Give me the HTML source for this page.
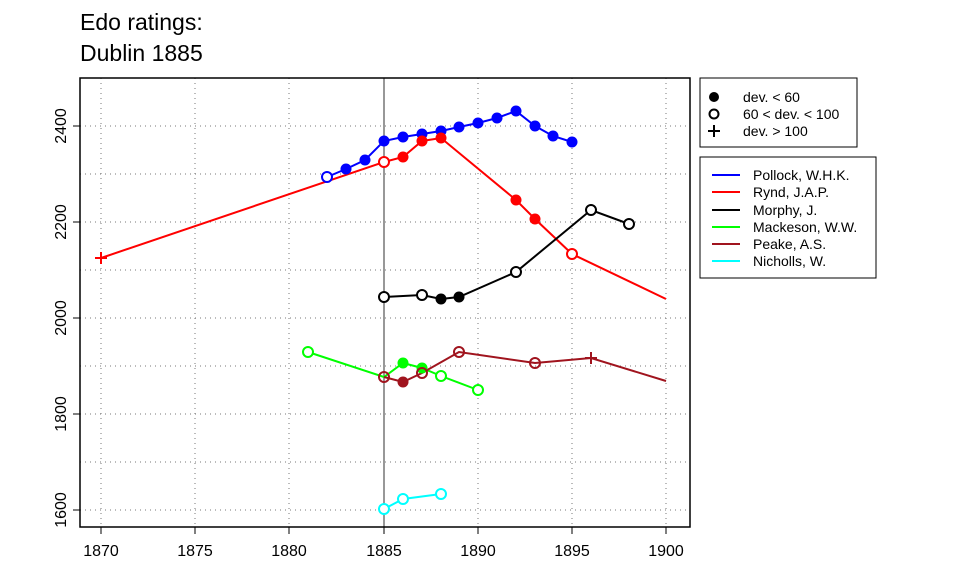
<!DOCTYPE html>
<html><head><meta charset="utf-8"><style>body{margin:0;background:#fff}</style></head><body>
<svg width="960" height="576" xmlns="http://www.w3.org/2000/svg" font-family="Liberation Sans, sans-serif">
<rect width="960" height="576" fill="#fff"/>
<text x="80" y="30" font-size="23">Edo ratings:</text>
<text x="80" y="61" font-size="23">Dublin 1885</text>
<g stroke="#777" stroke-dasharray="1,4" stroke-width="1">
<line x1="101" y1="78" x2="101" y2="527"/><line x1="195" y1="78" x2="195" y2="527"/><line x1="289" y1="78" x2="289" y2="527"/><line x1="478" y1="78" x2="478" y2="527"/><line x1="572" y1="78" x2="572" y2="527"/><line x1="666" y1="78" x2="666" y2="527"/>
<line x1="80" y1="126" x2="690" y2="126"/><line x1="80" y1="174" x2="690" y2="174"/><line x1="80" y1="222" x2="690" y2="222"/><line x1="80" y1="270" x2="690" y2="270"/><line x1="80" y1="318" x2="690" y2="318"/><line x1="80" y1="366" x2="690" y2="366"/><line x1="80" y1="414" x2="690" y2="414"/><line x1="80" y1="462" x2="690" y2="462"/><line x1="80" y1="510" x2="690" y2="510"/>
</g>
<line x1="384" y1="78" x2="384" y2="527" stroke="#777" stroke-width="1.5"/>
<g fill="none" stroke-width="2">
<polyline stroke="#00f" points="327,177 346,169 365,160 384,141 403,137 422,134 441,131 459,127 478,123 497,118 516,111 535,126 553,136 572,142"/>
<polyline stroke="#f00" points="101,258 384,162 403,157 422,141 441,138 516,200 535,219 572,254 666,299"/>
<polyline stroke="#000" points="384,297 422,295 441,299 459,297 516,272 591,210 629,224"/>
<polyline stroke="#0f0" points="308,352 384,377 403,363 422,368 441,376 478,390"/>
<polyline stroke="#a0141e" points="384,377 403,382 422,373 459,352 535,363 591,358 666,381"/>
<polyline stroke="#0ff" points="384,509 403,499 441,494"/>
</g>
<g stroke-width="2">
<circle cx="327" cy="177" r="5" fill="#fff" stroke="#00f"/>
<g fill="#00f" stroke="none"><circle cx="346" cy="169" r="5.5"/><circle cx="365" cy="160" r="5.5"/><circle cx="384" cy="141" r="5.5"/><circle cx="403" cy="137" r="5.5"/><circle cx="422" cy="134" r="5.5"/><circle cx="441" cy="131" r="5.5"/><circle cx="459" cy="127" r="5.5"/><circle cx="478" cy="123" r="5.5"/><circle cx="497" cy="118" r="5.5"/><circle cx="516" cy="111" r="5.5"/><circle cx="535" cy="126" r="5.5"/><circle cx="553" cy="136" r="5.5"/><circle cx="572" cy="142" r="5.5"/></g>
<path d="M95,258h12M101,252v12" stroke="#f00"/>
<circle cx="384" cy="162" r="5" fill="#fff" stroke="#f00"/><circle cx="572" cy="254" r="5" fill="#fff" stroke="#f00"/>
<g fill="#f00" stroke="none"><circle cx="403" cy="157" r="5.5"/><circle cx="422" cy="141" r="5.5"/><circle cx="441" cy="138" r="5.5"/><circle cx="516" cy="200" r="5.5"/><circle cx="535" cy="219" r="5.5"/></g>
<g fill="#fff" stroke="#000"><circle cx="384" cy="297" r="5"/><circle cx="422" cy="295" r="5"/><circle cx="516" cy="272" r="5"/><circle cx="591" cy="210" r="5"/><circle cx="629" cy="224" r="5"/></g>
<g fill="#000"><circle cx="441" cy="299" r="5.5"/><circle cx="459" cy="297" r="5.5"/></g>
<g fill="#fff" stroke="#0f0"><circle cx="308" cy="352" r="5"/><circle cx="441" cy="376" r="5"/><circle cx="478" cy="390" r="5"/></g>
<g fill="#0f0"><circle cx="403" cy="363" r="5.5"/><circle cx="422" cy="368" r="5.5"/></g>
<g fill="none" stroke="#a0141e"><circle cx="384" cy="377" r="5"/><circle cx="422" cy="373" r="5"/><circle cx="459" cy="352" r="5"/><circle cx="535" cy="363" r="5"/></g>
<circle cx="403" cy="382" r="5.5" fill="#a0141e"/>
<path d="M585,358h12M591,352v12" stroke="#a0141e"/>
<g fill="#fff" stroke="#0ff"><circle cx="384" cy="509" r="5"/><circle cx="403" cy="499" r="5"/><circle cx="441" cy="494" r="5"/></g>
</g>
<rect x="80" y="78" width="610" height="449" fill="none" stroke="#000" stroke-width="1.5"/>
<g stroke="#000"><line x1="101" y1="527" x2="666" y2="527"/>
<path d="M101,527v7M195,527v7M289,527v7M384,527v7M478,527v7M572,527v7M666,527v7"/>
<line x1="80" y1="126" x2="80" y2="510"/>
<path d="M80,126h-7M80,222h-7M80,318h-7M80,414h-7M80,510h-7"/></g>
<g font-size="16" text-anchor="middle"><text x="101" y="556">1870</text><text x="195" y="556">1875</text><text x="289" y="556">1880</text><text x="384" y="556">1885</text><text x="478" y="556">1890</text><text x="572" y="556">1895</text><text x="666" y="556">1900</text></g>
<g font-size="16" text-anchor="middle">
<text transform="translate(66,126) rotate(-90)">2400</text><text transform="translate(66,222) rotate(-90)">2200</text><text transform="translate(66,318) rotate(-90)">2000</text><text transform="translate(66,414) rotate(-90)">1800</text><text transform="translate(66,510) rotate(-90)">1600</text></g>
<rect x="700" y="78" width="157" height="69" fill="#fff" stroke="#000"/>
<circle cx="714" cy="97" r="5" fill="#000"/><circle cx="714" cy="114" r="4.5" fill="none" stroke="#000" stroke-width="2"/><path d="M708,131h12M714,125v12" stroke="#000" stroke-width="2"/>
<g font-size="14"><text x="743" y="102">dev. &lt; 60</text><text x="743" y="119">60 &lt; dev. &lt; 100</text><text x="743" y="136">dev. &gt; 100</text></g>
<rect x="700" y="157" width="176" height="121" fill="#fff" stroke="#000"/>
<g stroke-width="2"><line x1="712" y1="175" x2="740" y2="175" stroke="#00f"/><line x1="712" y1="192" x2="740" y2="192" stroke="#f00"/><line x1="712" y1="210" x2="740" y2="210" stroke="#000"/><line x1="712" y1="227" x2="740" y2="227" stroke="#0f0"/><line x1="712" y1="244" x2="740" y2="244" stroke="#a0141e"/><line x1="712" y1="261" x2="740" y2="261" stroke="#0ff"/></g>
<g font-size="14"><text x="753" y="180">Pollock, W.H.K.</text><text x="753" y="197">Rynd, J.A.P.</text><text x="753" y="215">Morphy, J.</text><text x="753" y="232">Mackeson, W.W.</text><text x="753" y="249">Peake, A.S.</text><text x="753" y="266">Nicholls, W.</text></g>
</svg>
</body></html>
